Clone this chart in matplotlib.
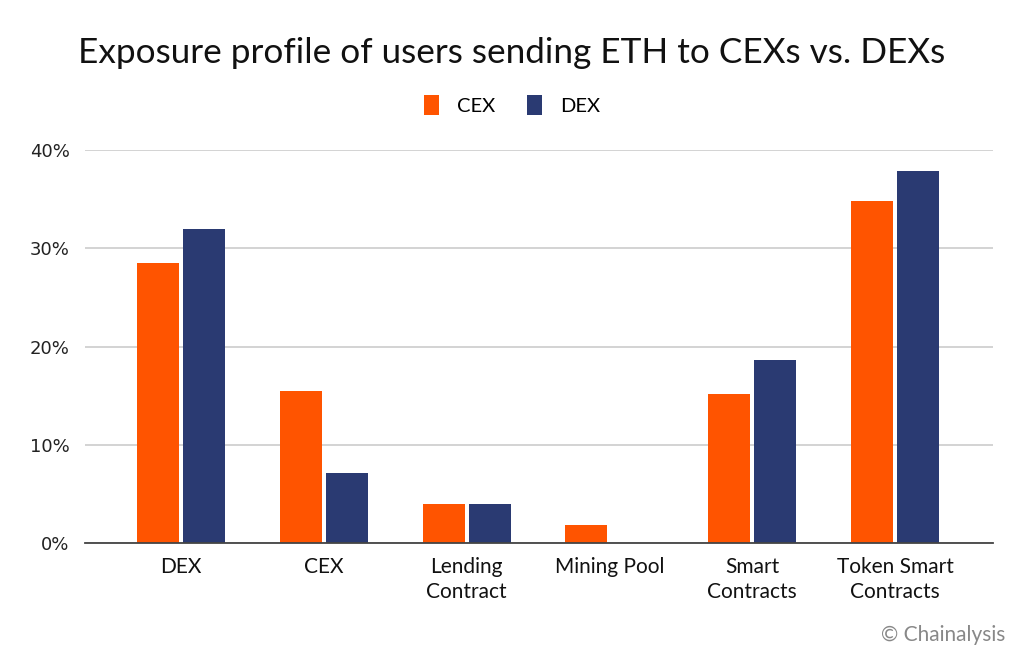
import matplotlib
matplotlib.use("Agg")
import matplotlib.pyplot as plt
import numpy as np

categories = ["DEX", "CEX", "Lending\nContract", "Mining Pool", "Smart\nContracts", "Token Smart\nContracts"]
cex_values = [28.5, 15.5, 4.0, 1.8, 15.2, 34.8]
dex_values = [32.0, 7.1, 4.0, 0.0, 18.6, 37.9]
yticks = [0, 10, 20, 30, 40]
ytick_labels = ["0%", "10%", "20%", "30%", "40%"]

ORANGE = "#FF5400"
NAVY = "#2A3A72"

fig = plt.figure(figsize=(10.24, 6.6), dpi=100)
ax = fig.add_axes([85/1024, 1-543/660, (993-85)/1024, (543-150)/660])

x = np.arange(len(categories))
w = 0.294
off = 0.161
ax.bar(x - off, cex_values, width=w, color=ORANGE, label="CEX", zorder=3)
ax.bar(x + off, dex_values, width=w, color=NAVY, label="DEX", zorder=3)

ax.set_xlim(-0.672, 5.686)
ax.set_ylim(0, 40)
ax.set_yticks(yticks)
ax.set_yticklabels(ytick_labels, fontsize=13, color="#222222", family="DejaVu Sans")
ax.yaxis.grid(True, color="#cccccc", linewidth=1.2, zorder=0)
ax.tick_params(axis="y", length=0, pad=11)
ax.tick_params(axis="x", length=0, pad=10)
ax.set_xticks(x)
ax.set_xticklabels(categories, fontsize=15, family="Lato", color="#111111", linespacing=1.3)
for s in ["top", "right", "left"]:
    ax.spines[s].set_visible(False)
ax.spines["bottom"].set_color("#444444")
ax.spines["bottom"].set_linewidth(1.3)
ax.spines["bottom"].set_zorder(4)

fig.text(0.5, 1-53/660, "Exposure profile of users sending ETH to CEXs vs. DEXs",
         ha="center", va="center", fontsize=25.3, family="Lato", color="#111111")

leg = fig.legend(loc="center", bbox_to_anchor=(0.5, 1-105/660), ncol=2, frameon=False,
                 prop={"family": "Lato", "size": 14.5}, handlelength=0.75, handleheight=1.1,
                 columnspacing=1.6, handletextpad=0.9)

fig.text(1005/1024, 1-635/660, "© Chainalysis", ha="right", va="center", fontsize=15,
         family="Lato", color="#888888")

fig.savefig("out.png", dpi=100)
